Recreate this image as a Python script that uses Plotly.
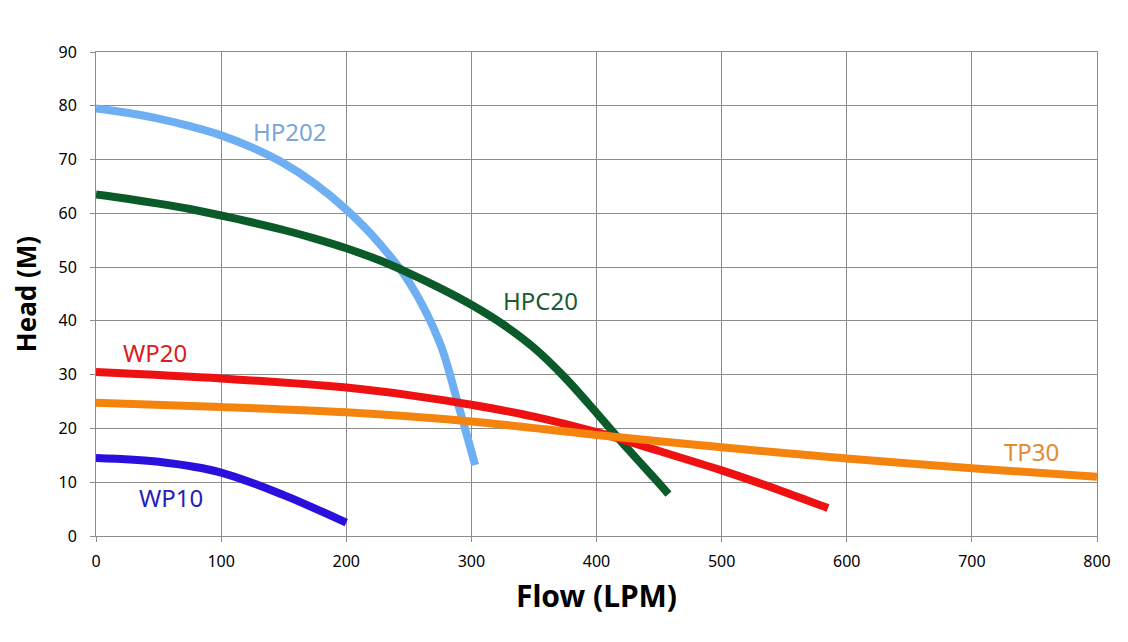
import plotly.graph_objects as go

# HP202
hp202_x = [0, 25, 50, 75, 100, 125, 150, 175, 200, 225, 250, 275, 290, 303]
hp202_y = [79.5, 78.7, 77.6, 76.2, 74.5, 72.2, 69.3, 65.5, 60.7, 54.8, 47.3, 35.8, 24.0, 13.2]
# HPC20
hpc20_x = [0, 25, 50, 75, 100, 125, 150, 175, 200, 225, 250, 275, 300, 325, 350, 375, 400, 425, 450, 457.5]
hpc20_y = [63.5, 62.7, 61.8, 60.8, 59.6, 58.3, 56.9, 55.3, 53.5, 51.4, 48.9, 46.1, 43.0, 39.4, 35.0, 29.4, 22.9, 16.2, 9.8, 7.8]
# WP20
wp20_x = [0, 100, 200, 250, 300, 350, 400, 450, 500, 550, 585]
wp20_y = [30.5, 29.3, 27.6, 26.2, 24.4, 22.2, 19.3, 15.8, 12.2, 8.2, 5.2]
# TP30
tp30_x = [0, 100, 200, 300, 400, 500, 600, 700, 800]
tp30_y = [24.8, 24.0, 23.0, 21.3, 18.8, 16.5, 14.4, 12.6, 11.0]
# WP10
wp10_x = [0, 50, 100, 150, 200]
wp10_y = [14.5, 13.8, 11.8, 7.6, 2.5]

series = [
    ("HP202", hp202_x, hp202_y, "#6EAEF2", "#7AA6DA", 155, 75.3),
    ("HPC20", hpc20_x, hpc20_y, "#0B5A2A", "#1E5A32", 355, 43.7),
    ("WP20", wp20_x, wp20_y, "#EE1111", "#D82020", 47, 34.2),
    ("TP30", tp30_x, tp30_y, "#F5840F", "#E58A2E", 748, 15.8),
    ("WP10", wp10_x, wp10_y, "#2A10DC", "#2A1CB8", 60, 7.1),
]

fig = go.Figure()
for name, xs, ys, col, lcol, lx, ly in series:
    fig.add_trace(go.Scatter(x=xs, y=ys, mode="lines", name=name,
                             line=dict(color=col, width=8, shape="spline", smoothing=0.9),
                             showlegend=False))
    fig.add_annotation(x=lx, y=ly, text=name, showarrow=False,
                       font=dict(family="Noto Sans, DejaVu Sans, sans-serif", size=24, color=lcol))

grid = "#8C8C8C"
fig.update_layout(
    width=1128, height=642,
    margin=dict(l=96, r=31, t=52, b=106),
    paper_bgcolor="white", plot_bgcolor="white",
    font=dict(family="Noto Sans, DejaVu Sans, sans-serif", color="black"),
)
fig.update_xaxes(range=[0, 800], tickvals=list(range(0, 801, 100)), showgrid=True, gridcolor=grid, gridwidth=1,
                 zeroline=False, showline=True, linecolor=grid, mirror=True,
                 ticks="outside", ticklen=5, tickcolor=grid, tickfont=dict(size=16), ticklabelstandoff=6,
                 title=dict(text="<b>Flow (LPM)</b>", font=dict(size=30), standoff=14))
fig.update_yaxes(range=[0, 90], tickvals=list(range(0, 91, 10)), showgrid=True, gridcolor=grid, gridwidth=1,
                 zeroline=False, showline=True, linecolor=grid, mirror=True,
                 ticks="outside", ticklen=5, tickcolor=grid, tickfont=dict(size=16), ticklabelstandoff=10,
                 title=dict(text="<b>Head (M)</b>", font=dict(size=26), standoff=14))

fig.write_html("out.html")
